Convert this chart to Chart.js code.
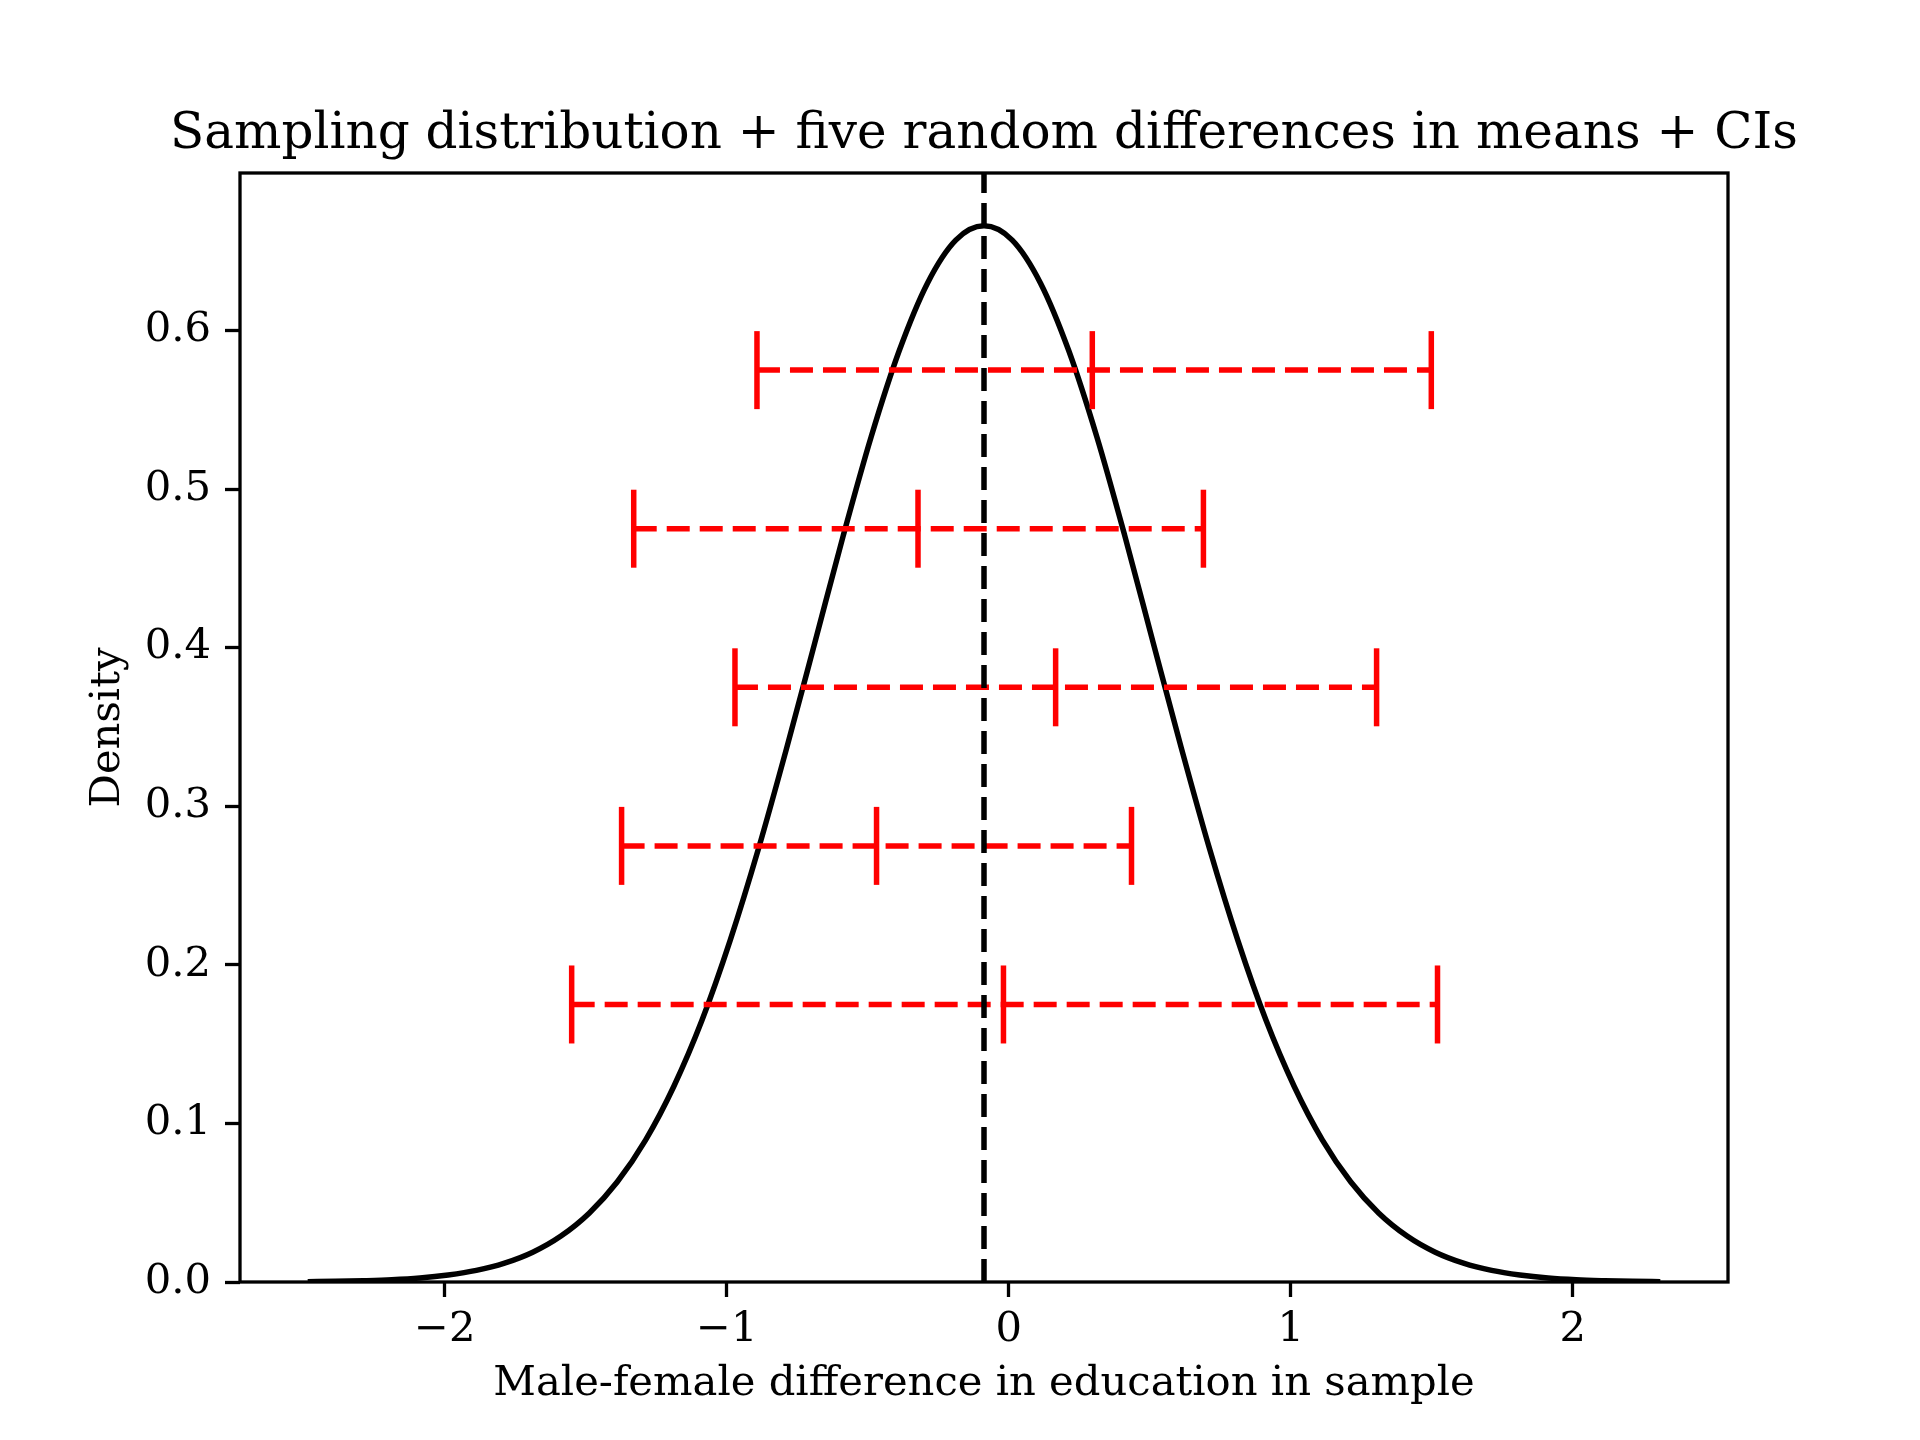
<!DOCTYPE html>
<html>
<head>
<meta charset="utf-8">
<title>Sampling distribution + CIs</title>
<script src="https://cdn.jsdelivr.net/npm/chart.js@4/dist/chart.umd.min.js"></script>
<style>
  body { margin: 0; background: #fff; }
  #wrap { width: 1920px; height: 1440px; }
</style>
</head>
<body>
<div id="wrap"><canvas id="myChart" width="1920" height="1440"></canvas></div>
<script>
// sampling distribution curve
let curveX = [-2.486, -2.388, -2.288, -2.188, -2.088, -1.988, -1.888, -1.788, -1.688, -1.588,
              -1.488, -1.388, -1.288, -1.188, -1.088, -0.988, -0.888, -0.788, -0.688, -0.588,
              -0.488, -0.388, -0.288, -0.188, -0.088, 0.012, 0.112, 0.212, 0.312, 0.412,
              0.512, 0.612, 0.712, 0.812, 0.912, 1.012, 1.112, 1.212, 1.312, 1.412,
              1.512, 1.612, 1.712, 1.812, 1.912, 2.012, 2.112, 2.212, 2.310]
let curveY = [0.0002, 0.0004, 0.0008, 0.0014, 0.0025, 0.0044, 0.0073, 0.0119, 0.0188, 0.0290,
              0.0434, 0.0632, 0.0895, 0.1233, 0.165, 0.2154, 0.273, 0.3365, 0.403, 0.470,
              0.533, 0.5875, 0.630, 0.657, 0.666, 0.657, 0.630, 0.5875, 0.533, 0.470,
              0.403, 0.3365, 0.273, 0.2154, 0.165, 0.1233, 0.0895, 0.0632, 0.0434, 0.0290,
              0.0188, 0.0119, 0.0073, 0.0044, 0.0025, 0.0014, 0.0008, 0.0004, 0.0002]

// true difference (dashed vertical line)
let trueDiff = -0.088

// five samples: height, lower CI, mean, upper CI
let ciLevel = [0.575, 0.475, 0.375, 0.275, 0.175]
let ciLow = [-0.893, -1.330, -0.971, -1.373, -1.550]
let ciMean = [0.296, -0.322, 0.166, -0.469, -0.019]
let ciHigh = [1.498, 0.690, 1.304, 0.435, 1.520]

// axes
let xMin = -2.726, xMax = 2.550
let yMin = 0, yMax = 0.6993
let xStep = 1, yStep = 0.1

let titleText = 'Sampling distribution + five random differences in means + CIs'
let serif = "'DejaVu Serif', 'Liberation Serif', serif"

let curvePoints = curveX.map((x, i) => ({x: x, y: curveY[i]}))

let datasets = []

datasets.push({
    data: curvePoints,
    showLine: true,
    borderColor: '#000',
    borderWidth: 5.5,
    pointRadius: 0,
    cubicInterpolationMode: 'monotone',
    order: 5
})

datasets.push({
    data: [{x: trueDiff, y: yMin}, {x: trueDiff, y: yMax}],
    showLine: true,
    borderColor: '#000',
    borderWidth: 5.5,
    borderDash: [23, 10],
    borderCapStyle: 'butt',
    pointRadius: 0,
    order: 1
})

// dashed CI lines
for (let i = 0; i < ciLevel.length; i++) {
    datasets.push({
        data: [{x: ciLow[i], y: ciLevel[i]}, {x: ciHigh[i], y: ciLevel[i]}],
        showLine: true,
        borderColor: '#ff0000',
        borderWidth: 5.5,
        borderDash: [23, 10],
        borderCapStyle: 'butt',
        pointRadius: 0,
        order: 3
    })
}

// caps at both ends
let capPoints = []
for (let i = 0; i < ciLevel.length; i++) {
    capPoints.push({x: ciLow[i], y: ciLevel[i]})
    capPoints.push({x: ciHigh[i], y: ciLevel[i]})
}
datasets.push({
    data: capPoints,
    pointStyle: 'line',
    rotation: 90,
    pointRadius: 39,
    pointBorderColor: '#ff0000',
    pointBorderWidth: 5.5,
    borderColor: '#ff0000',
    order: 2
})

// sample means
datasets.push({
    data: ciMean.map((m, i) => ({x: m, y: ciLevel[i]})),
    pointStyle: 'line',
    rotation: 90,
    pointRadius: 39,
    pointBorderColor: '#ff0000',
    pointBorderWidth: 5.5,
    borderColor: '#ff0000',
    order: 2
})

// box around the plot area + title centred over it
let frame = {
    id: 'frame',
    afterDatasetsDraw(chart) {
        let a = chart.chartArea, ctx = chart.ctx
        ctx.save()
        ctx.strokeStyle = '#000'
        ctx.lineWidth = 3.3
        ctx.strokeRect(a.left, a.top, a.right - a.left, a.bottom - a.top)
        ctx.restore()
    },
    afterDraw(chart) {
        let a = chart.chartArea, ctx = chart.ctx
        ctx.save()
        ctx.fillStyle = '#000'
        ctx.font = '50px ' + serif
        ctx.textAlign = 'center'
        ctx.textBaseline = 'alphabetic'
        ctx.fillText(titleText, (a.left + a.right) / 2, a.top - 25)
        ctx.restore()
    }
}

Chart.defaults.font.family = serif
Chart.defaults.color = '#000'

var ctx = document.getElementById('myChart').getContext('2d')
// tiny spacing keeps "fi" from turning into a ligature
ctx.letterSpacing = '0.1px'
var myChart = new Chart(ctx, {
    type: 'scatter',
    data: { datasets: datasets },
    plugins: [frame],
    options: {
        responsive: false,
        animation: false,
        devicePixelRatio: 1,
        layout: { padding: { left: 83, right: 192, top: 173, bottom: 30.5 } },
        plugins: {
            legend: { display: false },
            tooltip: { enabled: false },
            title: { display: false }
        },
        scales: {
            x: {
                type: 'linear',
                min: xMin,
                max: xMax,
                afterFit: function (scale) { scale.height = 127.5 },
                border: { display: false },
                grid: {
                    drawOnChartArea: false,
                    drawTicks: true,
                    tickLength: 15,
                    tickWidth: 3.3,
                    tickColor: '#000'
                },
                ticks: {
                    stepSize: xStep,
                    includeBounds: false,
                    autoSkip: false,
                    maxRotation: 0,
                    padding: 8,
                    color: '#000',
                    font: { family: serif, size: 41.7, lineHeight: 1.2 },
                    callback: v => (v < 0 ? '\u2212' : '') + Math.abs(v)
                },
                title: {
                    display: true,
                    text: 'Male-female difference in education in sample',
                    color: '#000',
                    font: { family: serif, size: 41.7, lineHeight: 1.2 },
                    padding: { top: 0, bottom: 0 }
                }
            },
            y: {
                type: 'linear',
                min: yMin,
                max: yMax,
                afterFit: function (scale) { scale.width = 157 },
                border: { display: false },
                grid: {
                    drawOnChartArea: false,
                    drawTicks: true,
                    tickLength: 15,
                    tickWidth: 3.3,
                    tickColor: '#000'
                },
                ticks: {
                    stepSize: yStep,
                    includeBounds: false,
                    autoSkip: false,
                    padding: 14,
                    color: '#000',
                    font: { family: serif, size: 41.7, lineHeight: 1.2 },
                    callback: v => v.toFixed(1)
                },
                title: {
                    display: true,
                    text: 'Density',
                    color: '#000',
                    font: { family: serif, size: 41.7, lineHeight: 1.2 },
                    padding: { top: 0, bottom: 0 }
                }
            }
        }
    }
})
</script>
</body>
</html>
